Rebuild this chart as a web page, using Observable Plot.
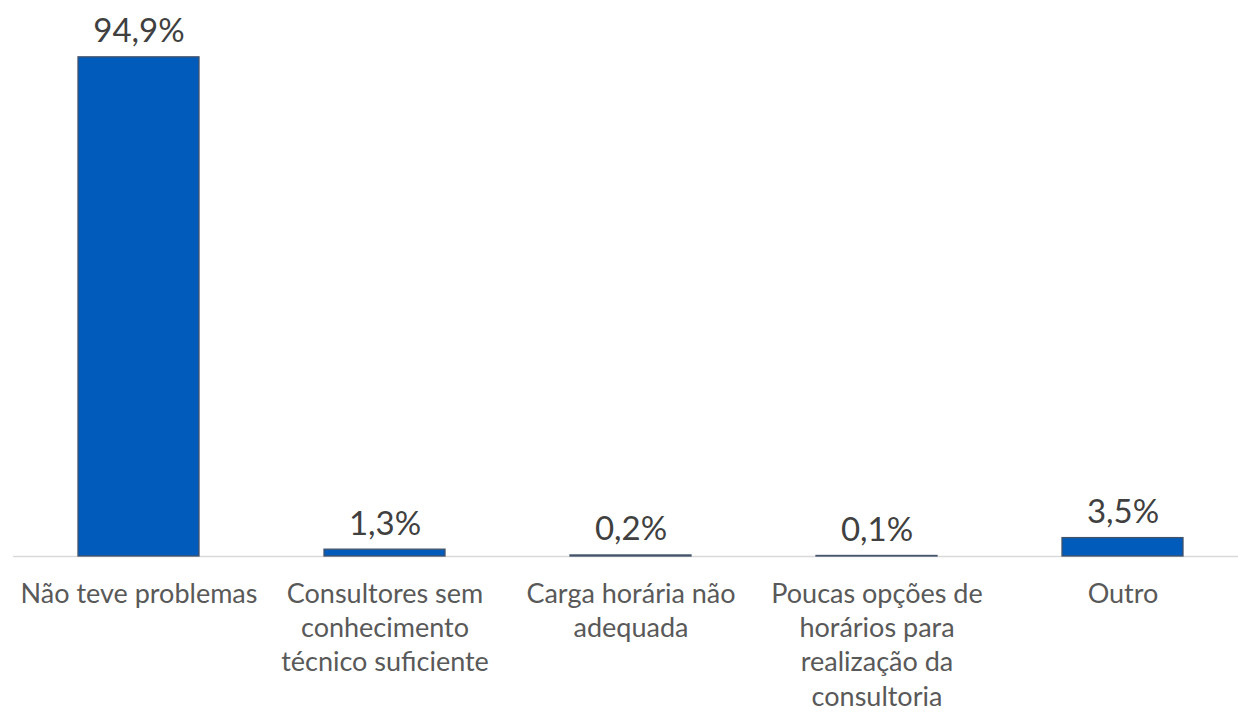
<!DOCTYPE html>
<html>
<head>
<meta charset="utf-8">
<script src="https://cdn.jsdelivr.net/npm/d3@7"></script>
<script src="https://cdn.jsdelivr.net/npm/@observablehq/plot@0.6"></script>
<style>
  html, body { margin: 0; padding: 0; background: #fff; }
  #chart svg { display: block; }
</style>
</head>
<body>
<div id="chart"></div>
<script>
const categories = [
  "Não teve problemas",
  "Consultores sem conhecimento técnico suficiente",
  "Carga horária não adequada",
  "Poucas opções de horários para realização da consultoria",
  "Outro"
];
const tickLabels = [
  "Não teve problemas",
  "Consultores sem\nconhecimento\ntécnico suficiente",
  "Carga horária não\nadequada",
  "Poucas opções de\nhorários para\nrealização da\nconsultoria",
  "Outro"
];
const values = [94.9, 1.3, 0.2, 0.1, 3.5];

const data = categories.map((c, i) => ({category: c, value: values[i], label: tickLabels[i]}));
const labelOf = new Map(categories.map((c, i) => [c, tickLabels[i]]));
const fmt = v => v.toFixed(1).replace(".", ",") + "%";

const chart = Plot.plot({
  width: 1238,
  height: 713,
  marginTop: 30,
  marginLeft: 13,
  marginRight: 0,
  marginBottom: 157,
  style: {fontFamily: "Lato, 'Open Sans', sans-serif", background: "#fff"},
  x: {domain: categories, paddingInner: 0.51, paddingOuter: 0.235, align: 0.54, label: null},
  y: {domain: [0, 100], axis: null},
  marks: [
    Plot.ruleY([0], {stroke: "#d9d9d9", strokeWidth: 1.5}),
    Plot.barY(data, {x: "category", y: "value", fill: "#005BBB", stroke: "#44546A", strokeWidth: 1.3}),
    Plot.text(data, {x: "category", y: "value", text: d => fmt(d.value), dy: -15, lineAnchor: "bottom", fontSize: 33, fill: "#404040"}),
    Plot.axisX({tickSize: 0, tickPadding: 22, fontSize: 27, lineHeight: 1.27, fill: "#595959", tickFormat: d => labelOf.get(d), label: null})
  ]
});
document.getElementById("chart").appendChild(chart);
</script>
</body>
</html>
